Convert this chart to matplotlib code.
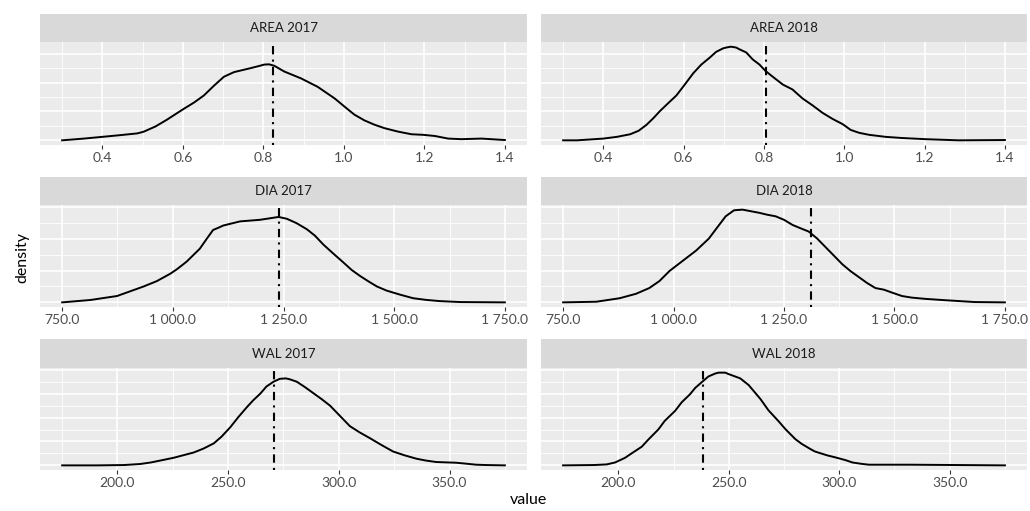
import numpy as np
import matplotlib
matplotlib.use("Agg")
import matplotlib.pyplot as plt
from matplotlib.ticker import MultipleLocator, FuncFormatter

plt.rcParams['font.family'] = ['Lato', 'DejaVu Sans']

# density curves (x value, density)
area17_x = [0.3, 0.354, 0.4, 0.445, 0.487, 0.503, 0.532, 0.56, 0.6, 0.628, 0.652, 0.678, 0.702,
            0.727, 0.769, 0.786, 0.802, 0.814, 0.827, 0.852, 0.894, 0.935, 0.977, 1.01, 1.026,
            1.051, 1.076, 1.101, 1.135, 1.168, 1.197, 1.226, 1.259, 1.292, 1.342, 1.4]
area17_y = [0.0, 0.06, 0.12, 0.18, 0.24, 0.3, 0.48, 0.71, 1.07, 1.31, 1.55, 1.9, 2.2,
            2.36, 2.5, 2.56, 2.62, 2.63, 2.58, 2.38, 2.14, 1.85, 1.45, 1.07, 0.89,
            0.69, 0.54, 0.42, 0.3, 0.21, 0.19, 0.15, 0.06, 0.04, 0.06, 0.01]

area18_x = [0.3, 0.335, 0.4, 0.434, 0.467, 0.488, 0.508, 0.525, 0.541, 0.562, 0.582, 0.603,
            0.624, 0.644, 0.665, 0.681, 0.698, 0.706, 0.718, 0.731, 0.739, 0.756, 0.772,
            0.789, 0.804, 0.822, 0.847, 0.871, 0.896, 0.921, 0.946, 0.971, 0.996, 1.016,
            1.037, 1.062, 1.103, 1.144, 1.202, 1.284, 1.4]
area18_y = [0.0, 0.0, 0.06, 0.12, 0.21, 0.33, 0.54, 0.77, 1.01, 1.29, 1.55, 1.93,
            2.32, 2.62, 2.86, 3.06, 3.18, 3.21, 3.24, 3.21, 3.15, 3.04, 2.8,
            2.62, 2.4, 2.2, 1.93, 1.76, 1.45, 1.21, 0.95, 0.74, 0.56, 0.36,
            0.26, 0.19, 0.12, 0.08, 0.04, 0.0, 0.01]

dia17_x = [750, 814, 874, 934, 964, 994, 1009, 1031, 1061, 1077, 1091, 1103, 1114, 1152, 1197,
           1239, 1258, 1280, 1303, 1321, 1340, 1363, 1385, 1404, 1423, 1442, 1461, 1483, 1514,
           1543, 1574, 1603, 1649, 1750]
dia17_y = [0.0, 0.075, 0.2, 0.5, 0.67, 0.9, 1.04, 1.28, 1.69, 2.01, 2.28, 2.35, 2.42, 2.55, 2.6,
           2.69, 2.63, 2.49, 2.3, 2.1, 1.82, 1.53, 1.26, 1.02, 0.83, 0.66, 0.5, 0.37, 0.24,
           0.13, 0.075, 0.04, 0.01, 0.0]

dia18_x = [750, 825, 878, 915, 945, 968, 991, 1021, 1051, 1080, 1100, 1118, 1137, 1156, 1175,
           1194, 1212, 1231, 1250, 1269, 1288, 1306, 1325, 1344, 1363, 1382, 1400, 1419, 1438,
           1457, 1476, 1494, 1517, 1539, 1570, 1607, 1682, 1750]
dia18_y = [0.0, 0.02, 0.13, 0.27, 0.45, 0.67, 0.99, 1.31, 1.63, 2.01, 2.38, 2.71, 2.9, 2.92, 2.87,
           2.82, 2.76, 2.71, 2.6, 2.44, 2.33, 2.23, 2.01, 1.74, 1.47, 1.2, 0.99, 0.8, 0.61,
           0.45, 0.4, 0.31, 0.2, 0.15, 0.11, 0.075, 0.01, 0.0]

wal17_x = [175, 190.8, 203, 210.3, 215, 220, 225.5, 234.5, 238.8, 243.5, 247, 251, 254.6,
           258.5, 261.3, 264.5, 267.3, 270.5, 273.3, 276, 277.9, 281, 284.6, 288.5, 292.1,
           296, 300.4, 305, 309.4, 314, 319.1, 324.5, 329.7, 335, 339.4, 344, 353, 357.4,
           362, 366.4, 375]
wal17_y = [0.0, 0.0, 0.07, 0.29, 0.6, 1.07, 1.6, 2.7, 3.5, 4.6, 6.0, 8.0, 10.1,
           12.2, 13.6, 15.0, 16.5, 17.5, 18.1, 18.2, 18.0, 17.5, 16.4, 15.1, 13.9,
           12.5, 10.4, 8.2, 6.9, 5.7, 4.3, 2.9, 2.1, 1.4, 1.0, 0.7, 0.55, 0.36,
           0.14, 0.07, 0.0]

wal18_x = [175, 189, 194.7, 198.5, 203, 206, 210.6, 213.6, 218.1, 221, 225.7, 228.7, 232.5,
           234.8, 238.5, 240.8, 243.8, 245.4, 248.4, 249.9, 255.2, 259, 264.3, 268, 272.6,
           275.6, 280.1, 283, 287, 289, 294.5, 298, 302.8, 306, 310.4, 313.5, 331.6, 375]
wal18_y = [0.0, 0.07, 0.2, 0.6, 1.57, 2.5, 3.9, 5.4, 7.5, 9.3, 11.4, 13.2, 14.9,
           16.2, 17.7, 18.6, 19.2, 19.4, 19.4, 19.1, 18.2, 16.8, 13.9, 11.5, 9.2,
           7.6, 5.5, 4.5, 3.4, 2.9, 2.1, 1.7, 1.1, 0.6, 0.3, 0.14, 0.14, 0.0]

# dash-dot reference lines
vlines = {"AREA 2017": 0.825, "AREA 2018": 0.804,
          "DIA 2017": 1239, "DIA 2018": 1310,
          "WAL 2017": 270.5, "WAL 2018": 238.3}

rows = [
    ("AREA", (area17_x, np.array(area17_y)), (area18_x, np.array(area18_y)), 0.2, 1.0),
    ("DIA", (dia17_x, np.array(dia17_y) / 1000), (dia18_x, np.array(dia18_y) / 1000), 250, 0.001),
    ("WAL", (wal17_x, np.array(wal17_y) / 1000), (wal18_x, np.array(wal18_y) / 1000), 50, 0.005),
]

W, H = 1030, 511
fig = plt.figure(figsize=(W / 100, H / 100), dpi=100)

cols_px = [(40, 527), (541, 1027)]
rows_px = [(14, 42, 145), (177, 205, 307), (339, 368, 470)]

fmt = FuncFormatter(lambda v, p: f"{v:,.1f}".replace(",", " "))

for r, (name, c17, c18, xstep, ystep) in enumerate(rows):
    strip_top, ptop, pbot = rows_px[r]
    ymax = max(c17[1].max(), c18[1].max())
    xmin = min(min(c17[0]), min(c18[0]))
    xmax = max(max(c17[0]), max(c18[0]))
    xpad = (xmax - xmin) * 0.05
    for c, (cx, cy) in enumerate([c17, c18]):
        x0, x1 = cols_px[c]
        title = f"{name} {2017 + c}"
        ax = fig.add_axes([x0 / W, 1 - pbot / H, (x1 - x0) / W, (pbot - ptop) / H])
        ax.set_facecolor("#EBEBEB")
        for s in ax.spines.values():
            s.set_visible(False)
        ax.plot(cx, cy, color="black", lw=1.4, solid_joinstyle="round", zorder=3)
        ax.axvline(vlines[title], color="black", lw=1.5, linestyle=(0, (1, 2.5, 4, 2.5)), zorder=4)
        ax.set_xlim(xmin - xpad, xmax + xpad)
        ax.set_ylim(-0.05 * ymax, 1.05 * ymax)
        ax.xaxis.set_major_locator(MultipleLocator(xstep))
        ax.xaxis.set_minor_locator(MultipleLocator(xstep / 2))
        ax.yaxis.set_major_locator(MultipleLocator(ystep))
        ax.yaxis.set_minor_locator(MultipleLocator(ystep / 2))
        ax.xaxis.set_major_formatter(fmt)
        ax.grid(which="major", color="white", lw=1.2)
        ax.grid(which="minor", color="white", lw=0.6)
        ax.set_axisbelow(True)
        ax.tick_params(axis="x", which="major", length=3, width=0.8, color="#333333",
                       labelsize=10, labelcolor="#4D4D4D", pad=2)
        ax.tick_params(axis="x", which="minor", length=0)
        ax.tick_params(axis="y", which="both", length=0, labelleft=False)

        # facet strip
        sax = fig.add_axes([x0 / W, 1 - ptop / H, (x1 - x0) / W, (ptop - strip_top) / H])
        sax.set_facecolor("#D9D9D9")
        sax.set_xticks([])
        sax.set_yticks([])
        for s in sax.spines.values():
            s.set_visible(False)
        sax.text(0.5, 0.5, title, ha="center", va="center", fontsize=9.5,
                 color="#1A1A1A", transform=sax.transAxes)

fig.text(22 / W, 1 - 257 / H, "density", rotation=90, ha="center", va="center",
         fontsize=11.5, color="black")
fig.text(528 / W, 1 - 500 / H, "value", ha="center", va="center",
         fontsize=11.5, color="black")

fig.savefig("out.png", dpi=100)
